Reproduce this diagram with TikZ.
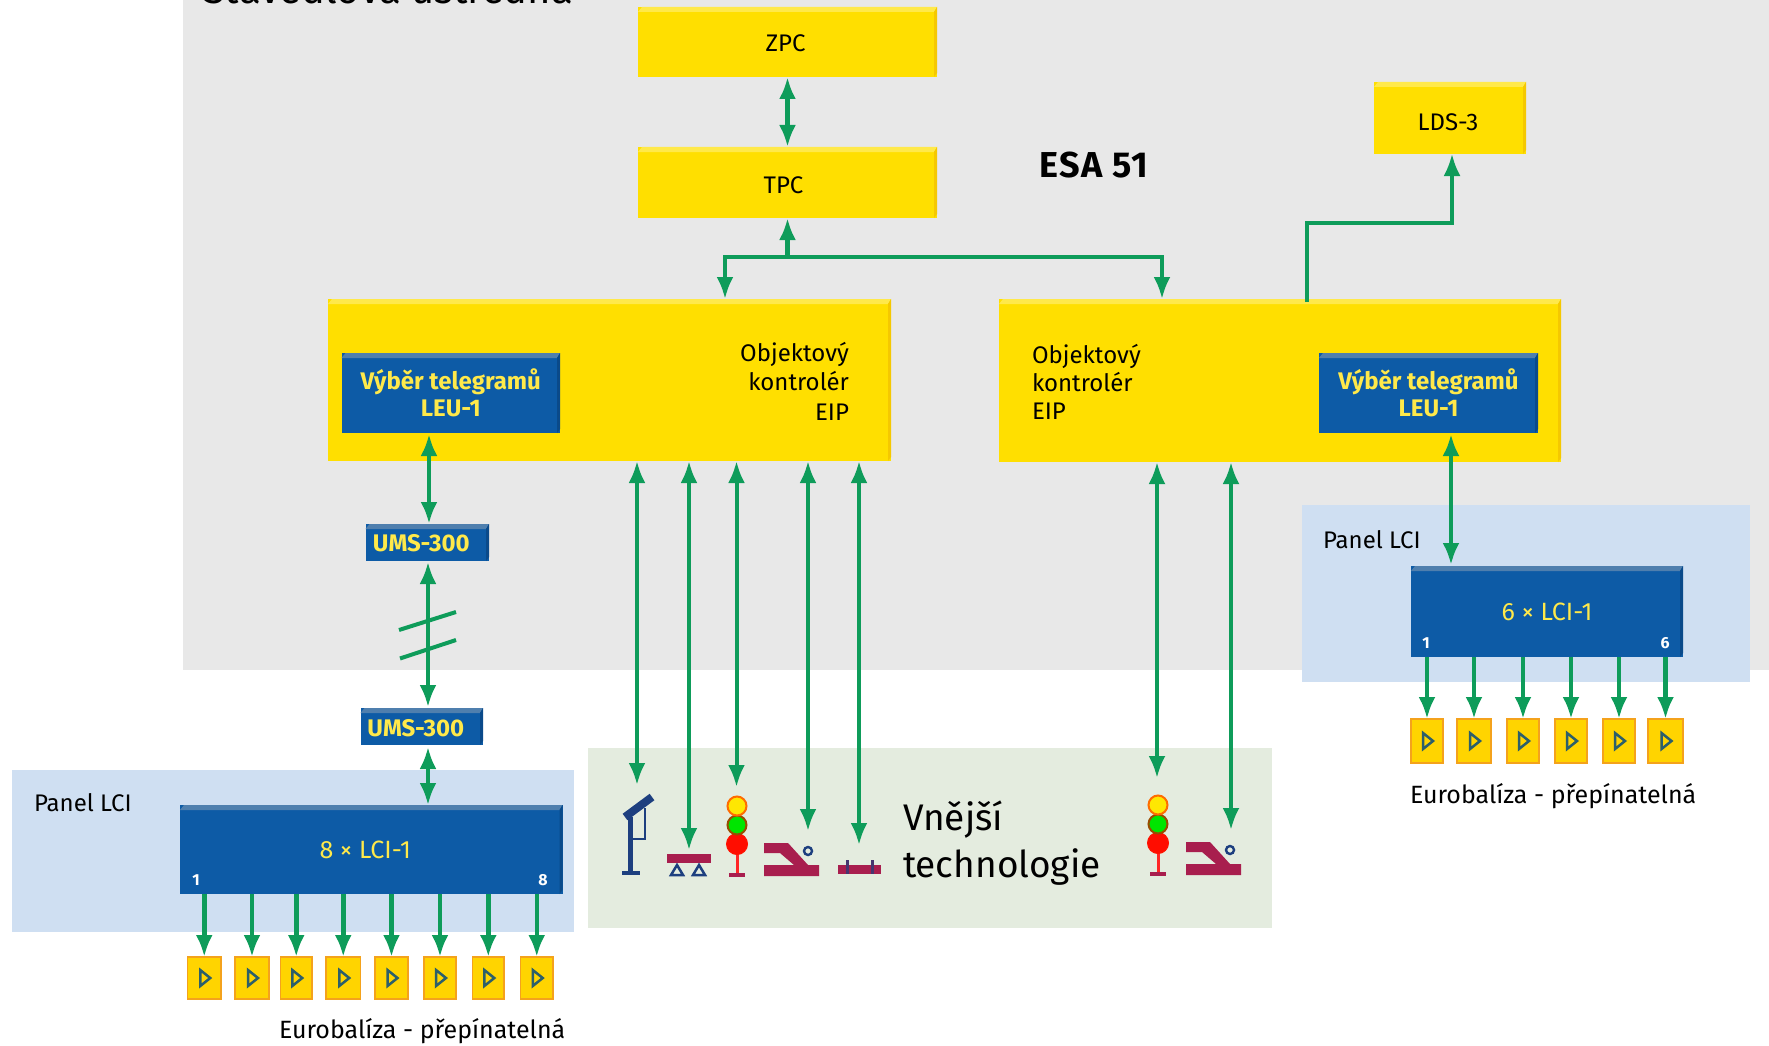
\documentclass[tikz,border=0pt]{standalone}
\usepackage{fontspec}
\setmainfont{Fira Sans}
\usetikzlibrary{arrows.meta}
\definecolor{cgrey}{HTML}{E8E8E8}
\definecolor{cpanel}{HTML}{CFDFF2}
\definecolor{cext}{HTML}{E4ECDF}
\definecolor{cyel}{HTML}{FFDF00}
\definecolor{cyeltop}{HTML}{FFE94A}
\definecolor{cyelside}{HTML}{F5C800}
\definecolor{cblue}{HTML}{0D5BA6}
\definecolor{cbluetop}{HTML}{4F7FAE}
\definecolor{cblueside}{HTML}{0A4A8A}
\definecolor{cgreen}{HTML}{0E9C5A}
\definecolor{ctxty}{HTML}{FFE94A}
\definecolor{cnavy}{HTML}{1D3F7F}
\definecolor{ccrim}{HTML}{A81E4E}
\definecolor{cbal}{HTML}{FFD400}
\definecolor{cbalb}{HTML}{F4A21C}
\definecolor{ctri}{HTML}{2C5F6A}
\newcommand\fsz[1]{\fontsize{#1}{#1}\selectfont}
\newcommand\lowered[2]{\raisebox{-#1}[\height][\depth]{#2}}
\newcommand\pbox[7]{%
  \pgfmathsetmacro\pw{#5-#3}\pgfmathsetmacro\ph{#6-#4}%
  \node[#2,minimum width=\pw pt,minimum height=\ph pt,anchor=north west] (#1) at (#3,#4) {#7};}
\newcommand\bevel[3]{%
  \fill[#2] ([shift={(0,5)}]#1.north west) -- ([shift={(4,0)}]#1.north west) -- (#1.north east) -- ([shift={(-3,5)}]#1.north east) -- cycle;
  \fill[#3] (#1.north east) -- ([shift={(0,-4)}]#1.south east) -- ([shift={(-3,0)}]#1.south east) -- ([shift={(-3,5)}]#1.north east) -- cycle;}
\newcommand\signal[2]{%
  \draw[line width=3pt,draw=#2!85!white] (#1,850) -- (#1,875);
  \draw[line width=3.5pt,draw=ccrim] (#1-8,875) -- (#1+8,875);
  \fill[red!90!orange,draw=red!85!orange,line width=1pt] (#1,844) circle (10.5);
  \fill[green!90!black,draw=orange!60!black,line width=2pt] (#1,825) circle (9.5);
  \fill[yellow!90!orange,draw=orange!85!red,line width=2pt] (#1,806) circle (9.5);}
\newcommand\pointm[2]{%
  \fill[ccrim,shift={(#1,#2)}] (0,0) -- (24,0) -- (44,22) -- (55,22) -- (55,33) -- (0,33) -- (0,22) -- (30,22) -- (16,10) -- (0,10) -- cycle;
  \draw[cnavy,fill=cext,line width=2.4pt,shift={(#1,#2)}] (44,8) circle (4);}
\tikzset{
  every node/.style={inner sep=0pt,outer sep=0pt},
  ybox/.style={fill=cyel,font=\fsz{24},text=black},
  bbox/.style={fill=cblue,font=\fsz{25},text=ctxty},
  bal/.style={fill=cbal,draw=cbalb,line width=1.5pt},
  one/.style={draw=cgreen,line width=4.5pt,-{Latex[length=22pt,width=17pt]}},
  dbl/.style={draw=cgreen,line width=4.5pt,{Latex[length=22pt,width=17pt]}-{Latex[length=22pt,width=17pt]}},
  plain/.style={draw=cgreen,line width=4pt},
  tri/.style={draw=ctri,line width=2.5pt,line join=miter},
  lbl/.style={font=\fsz{25},text=black},
  num/.style={font=\bfseries\fsz{16},text=white},
}
\begin{document}
\begin{tikzpicture}[x=1pt,y=-1pt]
\useasboundingbox (0,0) rectangle (1769,1046);
\clip (0,0) rectangle (1769,1046);
\fill[white] (0,0) rectangle (1769,1046);
% background areas
\fill[cgrey] (183,0) rectangle (1769,670);
\fill[cext] (588,748) rectangle (1272,928);
\fill[cpanel] (1302,505) rectangle (1750,682);
\fill[cpanel] (11.5,770) rectangle (574,932);
\node[font=\fsz{40},anchor=base west,text=black] (title) at (203,4) {Stavědlová ústředna};
% yellow boxes
\pbox{zpc}{ybox}{638}{7}{937}{77}{\hspace{-4pt}\lowered{1pt}{ZPC}}
\pbox{tpc}{ybox}{638}{147}{937}{218}{\hspace{-8pt}\lowered{3pt}{TPC}}
\pbox{lds}{ybox}{1374}{82}{1526}{154}{\hspace{-4pt}\lowered{4pt}{LDS-3}}
\pbox{objL}{ybox}{328}{299}{891}{461}{}
\pbox{objR}{ybox}{999}{299}{1561}{462}{}
\bevel{zpc}{cyeltop}{cyelside}
\bevel{tpc}{cyeltop}{cyelside}
\bevel{lds}{cyeltop}{cyelside}
\bevel{objL}{cyeltop}{cyelside}
\bevel{objR}{cyeltop}{cyelside}
\node[font=\bfseries\fsz{36}\addfontfeature{LetterSpace=4},text=black] (esa) at (1094,165) {ESA 51};
\node[text=black,align=right,anchor=east,font=\fontsize{24}{29.5}\selectfont] (objLt) at (849,381) {Objektový\\kontrolér\\EIP};
\node[text=black,align=left,anchor=west,font=\fontsize{24}{28}\selectfont] (objRt) at (1032,382) {Objektový\\kontrolér\\EIP};
% blue boxes
\pbox{leuL}{bbox,align=center,font=\bfseries\fontsize{24}{27}\selectfont}{341.5}{353}{560}{433}{Výběr telegramů\\LEU-1}
\pbox{leuR}{bbox,align=center,font=\bfseries\fontsize{24}{27}\selectfont}{1319}{353}{1538}{433}{Výběr telegramů\\LEU-1}
\pbox{umsU}{bbox,font=\bfseries\fsz{24}}{365.5}{524}{489}{561}{\hspace{-12pt}\lowered{1pt}{UMS-300}}
\pbox{umsL}{bbox,font=\bfseries\fsz{24}}{360.5}{708}{483}{745}{\hspace{-12pt}\lowered{2pt}{UMS-300}}
\pbox{lciL}{bbox}{180}{805}{562.5}{894}{\hspace{-12pt}8 × LCI-1}
\pbox{lciR}{bbox}{1411}{566}{1683}{657}{6 × LCI-1}
\bevel{leuL}{cbluetop}{cblueside}
\bevel{leuR}{cbluetop}{cblueside}
\bevel{umsU}{cbluetop}{cblueside}
\bevel{umsL}{cbluetop}{cblueside}
\bevel{lciL}{cbluetop}{cblueside}
\bevel{lciR}{cbluetop}{cblueside}
\node[num] (nL1) at (196,880) {1};
\node[num] (nL8) at (543,880) {8};
\node[num] (nR1) at (1426,643) {1};
\node[num] (nR6) at (1665,643) {6};
\node[lbl,anchor=west,font=\fsz{24}] (panL) at (34,803) {Panel LCI};
\node[lbl,anchor=west,font=\fsz{24}] (panR) at (1323,540) {Panel LCI};
\node[lbl,anchor=west] (euL) at (279,1031) {Eurobalíza - přepínatelná};
\node[lbl,anchor=west] (euR) at (1410,796) {Eurobalíza - přepínatelná};
\node[font=\fsz{37},anchor=west,text=black] (ext1) at (903,820) {Vnější};
\node[font=\fsz{37},anchor=west,text=black] (ext2) at (903,867) {technologie};
% balises
\foreach \i/\xa/\xb in {1/187.5/221,2/235/269,3/280.5/312,4/326/360.5,5/375/408,6/424/456,7/472.6/504,8/520.5/553}{
  \pbox{bL\i}{bal}{\xa}{957}{\xb}{999}{}
  \draw[tri] ([shift={(-4,-8)}]bL\i.center) -- ([shift={(-4,8)}]bL\i.center) -- ([shift={(6,0)}]bL\i.center) -- cycle;
  \draw[one] (lciL.south -| bL\i.north) -- (bL\i.north);
}
\foreach \i/\xa/\xb in {1/1411/1443,2/1457/1491,3/1507/1539,4/1555/1587,5/1603/1635,6/1648/1683}{
  \pbox{bR\i}{bal}{\xa}{719}{\xb}{763}{}
  \draw[tri] ([shift={(-4,-8)}]bR\i.center) -- ([shift={(-4,8)}]bR\i.center) -- ([shift={(6,0)}]bR\i.center) -- cycle;
  \draw[one] (lciR.south -| bR\i.north) -- (bR\i.north);
}
% outdoor symbols
\draw[cnavy,line width=5pt] (630,817) -- (630,873);
\draw[cnavy,line width=4pt] (622,873) -- (640,873);
\draw[cnavy,line width=8pt] (625,817) -- (652,797);
\draw[cnavy,line width=2.4pt] (630,839) -- (645,839) -- (645,808);
\fill[ccrim] (667,854) rectangle (711,863);
\draw[cnavy,line width=2.5pt,fill=cext] (671,875) -- (677,865) -- (683,875) -- cycle;
\draw[cnavy,line width=2.5pt,fill=cext] (693,875) -- (699,865) -- (705,875) -- cycle;
\signal{737}{red}
\pointm{764}{843}
\fill[ccrim] (838,865) rectangle (881,874);
\draw[cnavy!70!ccrim,line width=3pt] (847,860) -- (847,874);
\draw[cnavy!70!ccrim,line width=3pt] (872,860) -- (872,874);
\begin{scope}[yshift=1pt]
\signal{1158}{red}
\end{scope}
\pointm{1186}{842}
% connector anchors
\coordinate (busJ) at (787.5,257);
\coordinate (busL) at (725,257);
\coordinate (busR) at (1162,257);
\coordinate (ldsUp) at (1307,302);
\coordinate (ldsK1) at (1307,223);
\coordinate (ldsK2) at (1452,223);
\coordinate (leuLo) at (429,434);
\coordinate (leuRo) at (1451,434);
\coordinate (leuRi) at (1451,565);
\coordinate (umsUb) at (428,562);
\coordinate (umsLt) at (428,707);
\coordinate (umsLb) at (428,747);
\coordinate (lciLt) at (428,805);
\coordinate (tk1a) at (399,630);
\coordinate (tk1b) at (456,612);
\coordinate (tk2a) at (400,658.5);
\coordinate (tk2b) at (456,640);
\foreach \n/\x/\y in {A/637/785,B/689/850,C/736.5/787,D/808/831,E/859/845,F/1157/778,G/1231/830}{
  \coordinate (sym\n) at (\x,\y);
}
% connectors
\draw[dbl] (zpc) -- (tpc);
\draw[one] (busJ) -- (tpc.south);
\draw[plain,line cap=rect] (busL) -- (busR);
\draw[one,line width=4pt] (busL) -- (busL |- objL.north);
\draw[one,line width=4pt] (busR) -- (busR |- objR.north);
\draw[one,line width=3.4pt] (ldsUp) -- (ldsK1) -| (lds.south -| ldsK2);
\draw[dbl] (leuLo) -- (leuLo |- umsU.north);
\draw[dbl] (leuRo) -- (leuRi);
\draw[dbl,line width=4pt] (umsUb) -- (umsLt);
\draw[dbl,line width=4pt] (umsLb) -- (lciLt);
\draw[plain] (tk1a) -- (tk1b);
\draw[plain] (tk2a) -- (tk2b);
\foreach \n in {A,B,C,D,E}{\draw[dbl,line width=4pt] (objL.south -| sym\n) -- (sym\n);}
\foreach \n in {F,G}{\draw[dbl,line width=4pt] (objR.south -| sym\n) -- (sym\n);}
\end{tikzpicture}
\end{document}
